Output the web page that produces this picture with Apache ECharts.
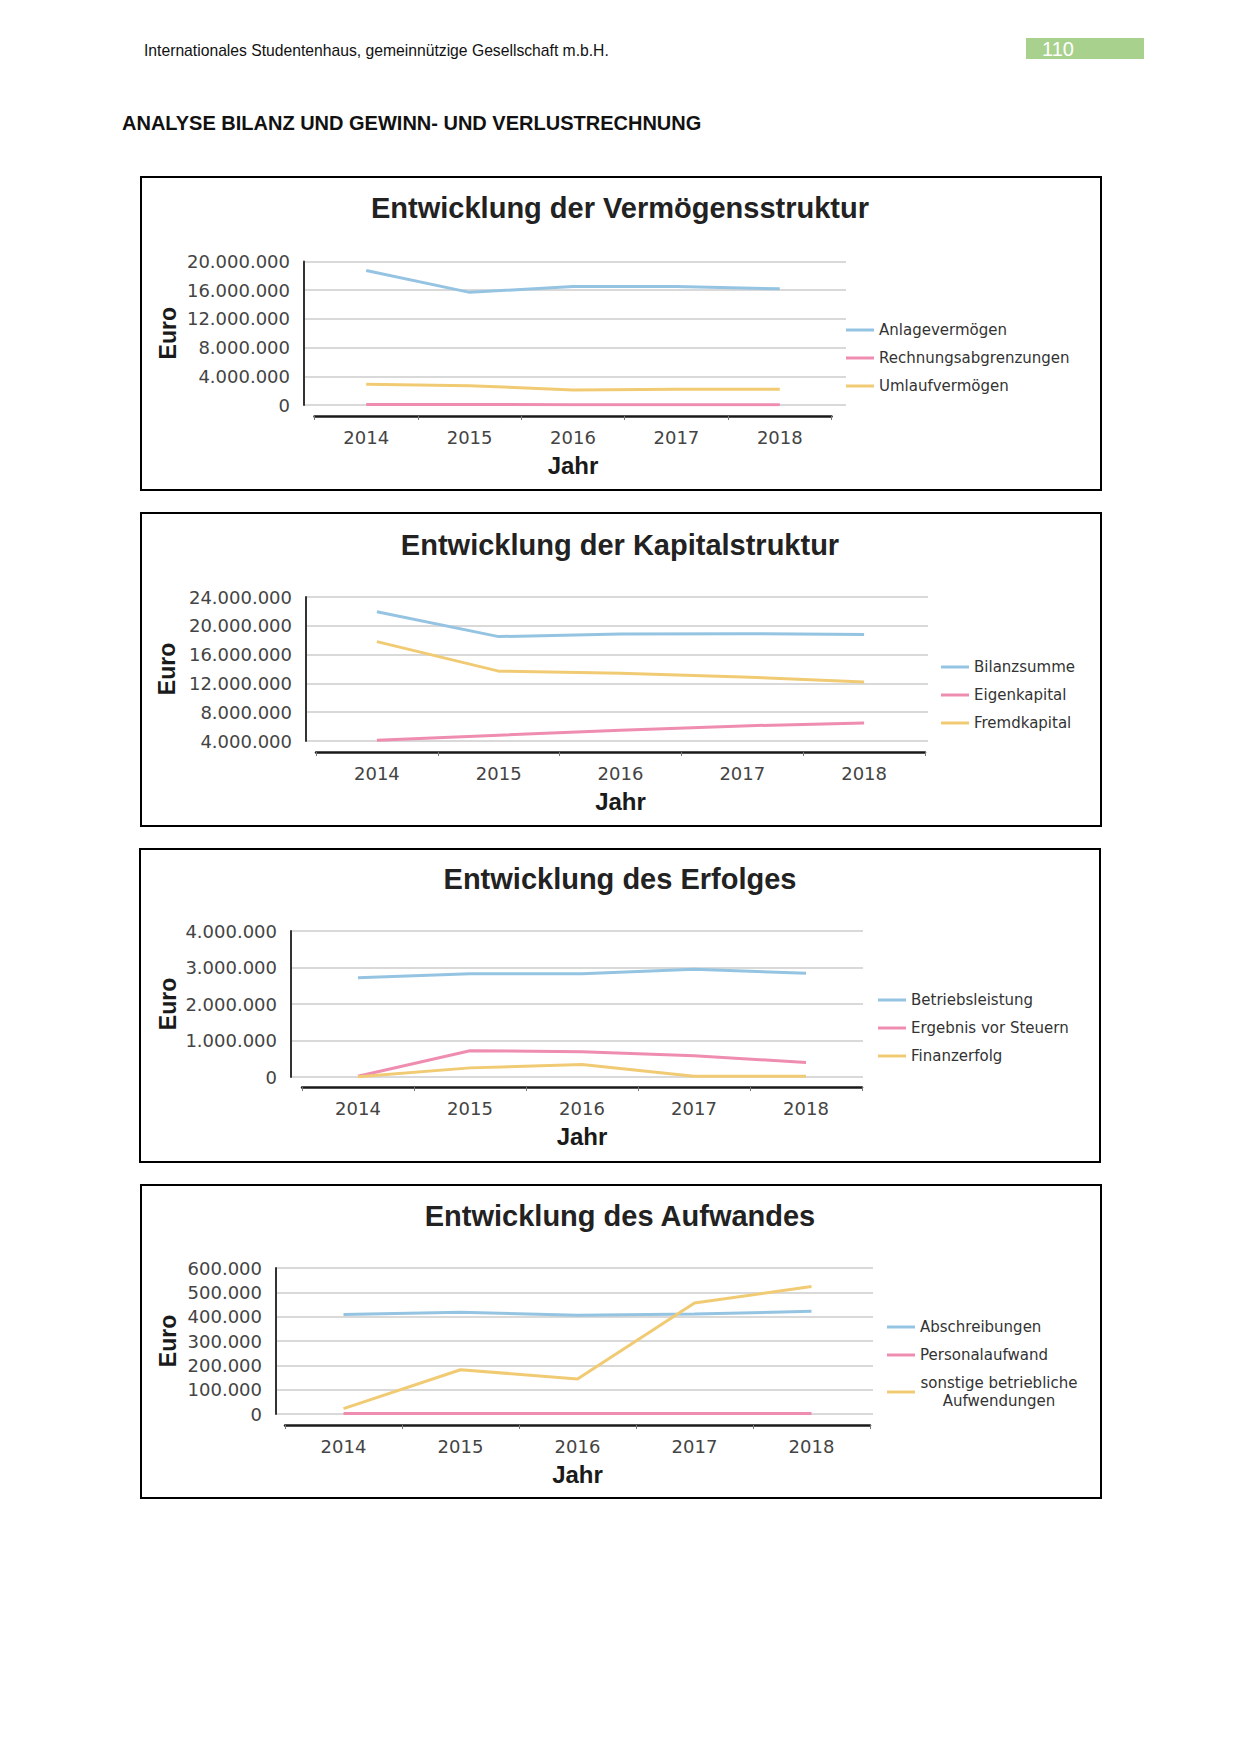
<!DOCTYPE html>
<html><head><meta charset="utf-8">
<script src="https://cdn.jsdelivr.net/npm/echarts@6/dist/echarts.min.js"></script>
<style>html,body{margin:0;padding:0;background:#fff}#c{width:1240px;height:1754px}</style>
</head><body><div id="c"></div><script>
// ---- data ----
const years = ['2014', '2015', '2016', '2017', '2018'];

// Entwicklung der Vermögensstruktur
const ticksVermoegen = [0, 4000000, 8000000, 12000000, 16000000, 20000000];
const anlagevermoegen = [18750000, 15700000, 16500000, 16500000, 16200000];
const rechnungsabgrenzungen = [60000, 60000, 50000, 50000, 50000];
const umlaufvermoegen = [2900000, 2700000, 2100000, 2200000, 2200000];

// Entwicklung der Kapitalstruktur
const ticksKapital = [4000000, 8000000, 12000000, 16000000, 20000000, 24000000];
const bilanzsumme = [21950000, 18500000, 18850000, 18900000, 18800000];
const eigenkapital = [4100000, 4800000, 5500000, 6100000, 6500000];
const fremdkapital = [17800000, 13700000, 13400000, 12900000, 12200000];

// Entwicklung des Erfolges
const ticksErfolg = [0, 1000000, 2000000, 3000000, 4000000];
const betriebsleistung = [2720000, 2830000, 2830000, 2950000, 2840000];
const ergebnisVorSteuern = [20000, 720000, 690000, 580000, 400000];
const finanzerfolg = [10000, 250000, 340000, 20000, 20000];

// Entwicklung des Aufwandes
const ticksAufwand = [0, 100000, 200000, 300000, 400000, 500000, 600000];
const abschreibungen = [409000, 418000, 406000, 411000, 422000];
const personalaufwand = [2000, 2000, 2000, 2000, 2000];
const sonstigeAufwendungen = [22000, 182000, 144000, 456000, 524000];

// ---- layout / styling ----
const BLUE = '#95c4e2', PINK = '#ef8db0', YELLOW = '#f1cb74';
const charts = [
  {title: 'Entwicklung der Vermögensstruktur', ticks: ticksVermoegen,
   names: ['Anlagevermögen', 'Rechnungsabgrenzungen', 'Umlaufvermögen'],
   data: [anlagevermoegen, rechnungsabgrenzungen, umlaufvermoegen],
   box: [141, 177, 960, 313], bgL: 304, bgR: 846, top: 261.5, bot: 405, fgL: 314.5, fgW: 517, xOff: 11, legL: 846, legT: 321, titleY: 208},
  {title: 'Entwicklung der Kapitalstruktur', ticks: ticksKapital,
   names: ['Bilanzsumme', 'Eigenkapital', 'Fremdkapital'],
   data: [bilanzsumme, eigenkapital, fremdkapital],
   box: [141, 513, 960, 313], bgL: 306, bgR: 928, top: 597, bot: 741, fgL: 316, fgW: 609, xOff: 11, legL: 941, legT: 658, titleY: 545},
  {title: 'Entwicklung des Erfolges', ticks: ticksErfolg,
   names: ['Betriebsleistung', 'Ergebnis vor Steuern', 'Finanzerfolg'],
   data: [betriebsleistung, ergebnisVorSteuern, finanzerfolg],
   box: [140, 849, 960, 313], bgL: 291, bgR: 863, top: 931, bot: 1077, fgL: 302, fgW: 560, xOff: 10, legL: 878, legT: 991, titleY: 879},
  {title: 'Entwicklung des Aufwandes', ticks: ticksAufwand,
   names: ['Abschreibungen', 'Personalaufwand', 'sonstige betriebliche Aufwendungen'],
   data: [abschreibungen, personalaufwand, sonstigeAufwendungen],
   box: [141, 1185, 960, 313], bgL: 276, bgR: 873, top: 1268, bot: 1414, fgL: 285, fgW: 585, xOff: 11, legL: 887, legT: 1318, titleY: 1216}
];
const colors = [BLUE, PINK, YELLOW];
const deFmt = v => String(v).replace(/\B(?=(\d{3})+(?!\d))/g, '.');

const grid = [], xAxis = [], yAxis = [], series = [], legend = [], title = [];
const graphic = [
  {type: 'text', x: 144, y: 50, silent: true, style: {text: 'Internationales Studentenhaus, gemeinnützige Gesellschaft m.b.H.', font: '15.7px "Liberation Sans", Arial, sans-serif', fill: '#111', textVerticalAlign: 'middle'}},
  {type: 'rect', silent: true, shape: {x: 1026, y: 38, width: 118, height: 21}, style: {fill: '#a9d18e'}},
  {type: 'text', x: 1042, y: 49, silent: true, style: {text: '110', font: '20px "Liberation Sans", Arial, sans-serif', fill: '#ffffff', textVerticalAlign: 'middle'}},
  {type: 'text', x: 122, y: 123, silent: true, style: {text: 'ANALYSE BILANZ UND GEWINN- UND VERLUSTRECHNUNG', font: 'bold 20px "Liberation Sans", Arial, sans-serif', fill: '#111', textVerticalAlign: 'middle'}}
];

charts.forEach((c, i) => {
  const min = c.ticks[0], max = c.ticks[c.ticks.length - 1], interval = c.ticks[1] - c.ticks[0];
  grid.push({left: c.bgL, top: c.top, width: c.bgR - c.bgL, height: c.bot - c.top});
  grid.push({left: c.fgL, top: c.top, width: c.fgW, height: c.bot - c.top});
  xAxis.push({gridIndex: 2 * i, type: 'value', min: 0, max: 1, show: false});
  xAxis.push({gridIndex: 2 * i + 1, type: 'category', data: years, boundaryGap: true, offset: c.xOff,
    axisLine: {onZero: false, lineStyle: {color: '#1a1a1a', width: 2.5}},
    axisTick: {show: true, length: 4, lineStyle: {color: '#777', width: 1}},
    axisLabel: {margin: 12, fontFamily: 'DejaVu Sans', fontSize: 18, color: '#444'},
    splitLine: {show: false},
    name: 'Jahr', nameLocation: 'middle', nameGap: 37,
    nameTextStyle: {fontFamily: 'Liberation Sans', fontWeight: 'bold', fontSize: 24, color: '#1a1a1a'}});
  yAxis.push({gridIndex: 2 * i, type: 'value', min: min, max: max, interval: interval,
    axisLine: {show: true, lineStyle: {color: '#333', width: 2}},
    axisTick: {show: false},
    axisLabel: {margin: 14, fontFamily: 'DejaVu Sans', fontSize: 18, color: '#444', formatter: deFmt},
    splitLine: {show: true, lineStyle: {color: '#d9d9d9', width: 2}},
    name: 'Euro', nameLocation: 'middle', nameRotate: 90, nameGap: c.bgL - 168 - 11.5,
    nameTextStyle: {fontFamily: 'Liberation Sans', fontWeight: 'bold', fontSize: 23, color: '#1a1a1a'}});
  yAxis.push({gridIndex: 2 * i + 1, type: 'value', min: min, max: max, interval: interval, show: false, splitLine: {show: false}});
  c.names.forEach((n, k) => series.push({type: 'line', name: n, xAxisIndex: 2 * i + 1, yAxisIndex: 2 * i + 1,
    data: c.data[k], symbol: 'none', silent: true, lineStyle: {color: colors[k], width: 3}, itemStyle: {color: colors[k]}}));
  legend.push({data: c.names, orient: 'vertical', left: c.legL, top: c.legT, icon: 'rect', itemWidth: 28, itemHeight: 3,
    itemGap: 10, selectedMode: false, padding: 0,
    formatter: n => n === 'sonstige betriebliche Aufwendungen' ? '{c|sonstige betriebliche}\n{c|Aufwendungen}' : n,
    textStyle: {fontFamily: 'DejaVu Sans', fontSize: 15, lineHeight: 18, color: '#333',
      rich: {c: {fontFamily: 'DejaVu Sans', fontSize: 15, lineHeight: 18, color: '#333', width: 158, align: 'center'}}}});
  title.push({text: c.title, left: 'center', top: c.titleY - 14.5, padding: 0,
    textStyle: {fontFamily: 'Liberation Sans', fontWeight: 'bold', fontSize: 29, color: '#222'}});
  graphic.push({type: 'rect', silent: true, shape: {x: c.box[0], y: c.box[1], width: c.box[2], height: c.box[3]},
    style: {fill: 'none', stroke: '#000', lineWidth: 2}});
});

const chart = echarts.init(document.getElementById('c'), null, {renderer: 'svg', width: 1240, height: 1754});
chart.setOption({animation: false, backgroundColor: '#fff', grid, xAxis, yAxis, series, legend, title, graphic});
</script></body></html>
